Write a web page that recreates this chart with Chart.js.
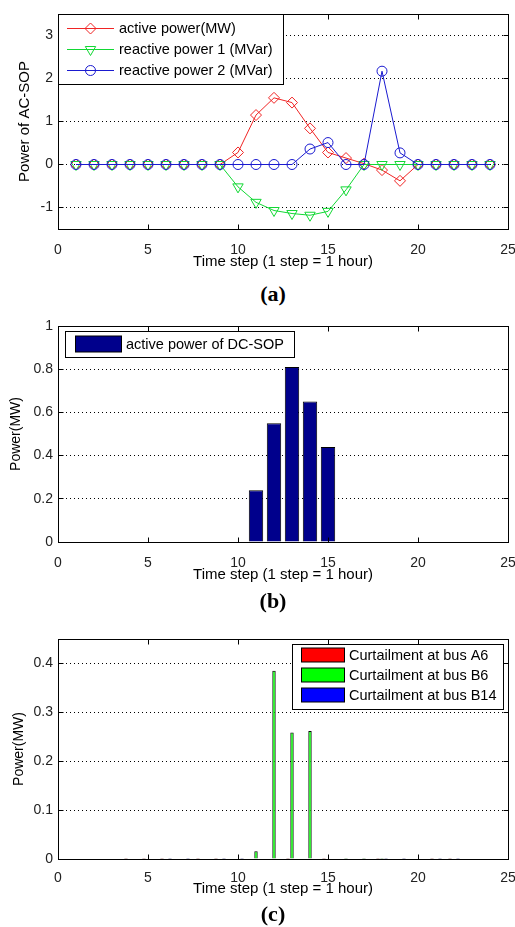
<!DOCTYPE html>
<html lang="en">
<head>
    <meta charset="UTF-8">
    <title>AC-SOP / DC-SOP power and curtailment</title>
    <script src="https://cdn.jsdelivr.net/npm/chart.js"></script>
    <style>
        body { margin: 0; background: #fff; }
        .page { position: relative; width: 515px; height: 927px; }
        .panel { position: absolute; left: 0; width: 515px; overflow: hidden; }
        .panel canvas { display: block; }
        .caption {
            position: absolute;
            left: 273px;
            transform: translateX(-50%);
            font: bold 22px "Liberation Serif", "DejaVu Serif", serif;
            line-height: 22px;
            color: #000;
        }
    </style>
</head>
<body>
    <div class="page">
        <div class="panel" style="top:0;height:280px"><canvas id="acChart" width="515" height="280"></canvas></div>
        <div class="caption" style="top:283px">(a)</div>
        <div class="panel" style="top:300px;height:290px"><canvas id="dcChart" width="515" height="290"></canvas></div>
        <div class="caption" style="top:590px">(b)</div>
        <div class="panel" style="top:610px;height:286px"><canvas id="curtChart" width="515" height="300"></canvas></div>
        <div class="caption" style="top:903px">(c)</div>
    </div>

    <script>
        // data
        const hours = [1, 2, 3, 4, 5, 6, 7, 8, 9, 10, 11, 12, 13, 14, 15, 16, 17, 18, 19, 20, 21, 22, 23, 24];
        const activePower    = [0, 0, 0, 0, 0, 0, 0, 0, 0, 0.28, 1.15, 1.55, 1.44, 0.84, 0.28, 0.15, 0.02, -0.13, -0.38, 0, 0, 0, 0, 0];
        const reactivePower1 = [0, 0, 0, 0, 0, 0, 0, 0, 0, -0.52, -0.88, -1.07, -1.14, -1.18, -1.09, -0.59, 0, 0, 0, 0, 0, 0, 0, 0];
        const reactivePower2 = [0, 0, 0, 0, 0, 0, 0, 0, 0, 0, 0, 0, 0, 0.36, 0.51, 0, 0, 2.17, 0.27, 0, 0, 0, 0, 0];

        const dcHours = [11, 12, 13, 14, 15];
        const dcActivePower = [0.24, 0.55, 0.81, 0.65, 0.44];

        const curtA6  = [0, 0, 0, 0.002, 0.002, 0.002, 0, 0.002, 0.002, 0, 0, 0, 0.002, 0, 0.002, 0, 0, 0.002, 0, 0, 0.002, 0.002, 0, 0];
        const curtB6  = [0, 0, 0, 0, 0, 0, 0, 0, 0, 0, 0.016, 0.385, 0.259, 0.262, 0, 0.002, 0.002, 0.002, 0, 0, 0, 0, 0, 0];
        const curtB14 = [0, 0, 0, 0, 0, 0.002, 0.002, 0, 0.002, 0.002, 0, 0, 0, 0, 0, 0, 0, 0.002, 0.002, 0, 0.002, 0.002, 0, 0];

        // tick labels
        const xTicks = [0, 5, 10, 15, 20, 25];
        const acTicks = [-1, 0, 1, 2, 3];
        const dcTicks = [0, 0.2, 0.4, 0.6, 0.8, 1];
        const curtTicks = [0, 0.1, 0.2, 0.3, 0.4];

        const xTitle = 'Time step (1 step = 1 hour)';
        const FONT = '"Liberation Sans", Arial, sans-serif';

        const pts = (xs, ys) => xs.map((x, i) => ({ x: x, y: ys[i] }));
        const tickText = v => String(+Number(v).toFixed(2));
        // same pixel snapping chart.js uses for 1px lines
        const snap = p => Math.round(p - 0.5) + 0.5;

        function drawMarker(ctx, style, x, y, r) {
            ctx.beginPath();
            if (style === 'rectRot') {
                ctx.moveTo(x, y - r); ctx.lineTo(x + r, y); ctx.lineTo(x, y + r); ctx.lineTo(x - r, y);
                ctx.closePath();
            } else if (style === 'triangle') {
                const s = Math.sin(Math.PI / 3) * r;
                ctx.moveTo(x, y + r); ctx.lineTo(x - s, y - r / 2); ctx.lineTo(x + s, y - r / 2);
                ctx.closePath();
            } else {
                ctx.arc(x, y, r, 0, Math.PI * 2);
            }
            ctx.stroke();
        }

        // backup for the dotted grid, painted behind whatever is already there
        function drawGrid(chart) {
            const ctx = chart.ctx, a = chart.chartArea, y = chart.scales.y;
            ctx.save();
            ctx.globalCompositeOperation = 'destination-over';
            ctx.strokeStyle = '#000';
            ctx.lineWidth = 1;
            ctx.setLineDash([1, 3]);
            y.ticks.forEach(t => {
                const py = snap(y.getPixelForValue(t.value));
                if (py <= a.top + 2 || py >= a.bottom - 2) return;
                ctx.beginPath();
                ctx.moveTo(a.left, py);
                ctx.lineTo(a.right, py);
                ctx.stroke();
            });
            ctx.restore();
        }

        // box round the plot with inward ticks on all four sides
        function drawBox(chart) {
            const ctx = chart.ctx, a = chart.chartArea, x = chart.scales.x, y = chart.scales.y;
            const L = snap(a.left), R = snap(a.right), T = snap(a.top), B = snap(a.bottom);
            ctx.save();
            ctx.strokeStyle = '#000';
            ctx.lineWidth = 1;
            ctx.setLineDash([]);
            ctx.beginPath();
            x.ticks.forEach(t => {
                const px = snap(x.getPixelForValue(t.value));
                ctx.moveTo(px, B); ctx.lineTo(px, B - 5);
                ctx.moveTo(px, T); ctx.lineTo(px, T + 5);
            });
            y.ticks.forEach(t => {
                const py = snap(y.getPixelForValue(t.value));
                ctx.moveTo(L, py); ctx.lineTo(L + 5, py);
                ctx.moveTo(R, py); ctx.lineTo(R - 5, py);
            });
            ctx.stroke();
            ctx.strokeRect(L, T, R - L, B - T);
            ctx.restore();
        }

        function drawLegend(chart, lg) {
            const ctx = chart.ctx;
            ctx.save();
            ctx.setLineDash([]);
            ctx.fillStyle = '#fff';
            ctx.fillRect(lg.x, lg.y, lg.w, lg.h);
            ctx.strokeStyle = '#000';
            ctx.lineWidth = 1;
            ctx.strokeRect(lg.x + 0.5, lg.y + 0.5, lg.w, lg.h);
            ctx.font = '14.5px ' + FONT;
            ctx.textBaseline = 'middle';
            lg.rows.forEach((rowY, i) => {
                const ds = chart.data.datasets[i];
                if (lg.kind === 'line') {
                    ctx.strokeStyle = ds.borderColor;
                    ctx.lineWidth = 1;
                    ctx.beginPath();
                    ctx.moveTo(lg.sampleX0, rowY + 0.5);
                    ctx.lineTo(lg.sampleX1, rowY + 0.5);
                    ctx.stroke();
                    drawMarker(ctx, ds.pointStyle, (lg.sampleX0 + lg.sampleX1) / 2, rowY + 0.5, ds.pointRadius);
                } else {
                    ctx.fillStyle = '#000';
                    ctx.fillRect(lg.sampleX0, rowY - lg.boxH / 2, lg.sampleX1 - lg.sampleX0, lg.boxH);
                    ctx.fillStyle = ds.backgroundColor;
                    ctx.fillRect(lg.sampleX0 + 1, rowY - lg.boxH / 2 + 1, lg.sampleX1 - lg.sampleX0 - 2, lg.boxH - 2);
                }
                ctx.fillStyle = '#000';
                ctx.fillText(ds.label, lg.textX, rowY + 1);
            });
            ctx.restore();
        }

        const matlabFrame = {
            id: 'matlabFrame',
            afterDraw(chart, args, opts) {
                drawGrid(chart);
                drawBox(chart);
                if (opts && opts.legend) drawLegend(chart, opts.legend);
            }
        };

        function fixedTicks(values) {
            return function (scale) {
                scale.ticks = values.map(v => ({ value: v }));
            };
        }

        function xScale(tickPad, titlePad, height) {
            return {
                type: 'linear',
                min: 0,
                max: 25,
                offset: false,
                grid: { display: false, offset: false },
                border: { display: false },
                ticks: { padding: tickPad, color: '#222', font: { family: FONT, size: 14 }, maxRotation: 0, callback: tickText },
                afterBuildTicks: fixedTicks(xTicks),
                title: { display: true, text: xTitle, color: '#000', font: { family: FONT, size: 15 }, padding: { top: 0, bottom: titlePad } },
                afterFit(s) { s.height = height; s.paddingLeft = 0; s.paddingRight = 0; }
            };
        }

        function yScale(min, max, ticks, title, titleSize, titlePad) {
            return {
                type: 'linear',
                min: min,
                max: max,
                // dotted grid drawn by chart.js itself, hidden on the box edges
                grid: {
                    display: true,
                    drawTicks: false,
                    lineWidth: 1,
                    color: c => (c.tick && c.tick.value > min && c.tick.value < max) ? '#000' : 'rgba(0,0,0,0)'
                },
                border: { display: false, dash: [1, 3] },
                ticks: { padding: 5, color: '#222', font: { family: FONT, size: 14 }, callback: tickText },
                afterBuildTicks: fixedTicks(ticks),
                title: { display: true, text: title, color: '#000', font: { family: FONT, size: titleSize }, padding: { top: titlePad, bottom: 0 } },
                afterFit(s) { s.width = 58; s.paddingTop = 0; s.paddingBottom = 0; }
            };
        }

        function lineSet(label, values, color, style, radius, order) {
            return {
                label: label,
                data: pts(hours, values),
                borderColor: color,
                borderWidth: 1,
                pointStyle: style,
                pointRadius: radius,
                pointRotation: style === 'triangle' ? 180 : 0,
                pointBorderColor: color,
                pointBackgroundColor: 'rgba(0,0,0,0)',
                pointBorderWidth: 1,
                tension: 0,
                order: order
            };
        }

        function common(padTop) {
            return {
                responsive: false,
                animation: false,
                events: [],
                layout: { padding: { top: padTop, right: 7, left: 0, bottom: 0 } },
                plugins: { legend: { display: false }, tooltip: { enabled: false } }
            };
        }

        // (a) AC-SOP
        const acOpts = common(14);
        acOpts.scales = { x: xScale(5, 9, 51), y: yScale(-1.5, 3.5, acTicks, 'Power of AC-SOP', 15, 16) };
        acOpts.plugins.matlabFrame = {
            legend: { kind: 'line', x: 58, y: 14, w: 225, h: 70, rows: [28, 49, 70], sampleX0: 67, sampleX1: 114, textX: 119 }
        };
        new Chart(document.getElementById('acChart'), {
            type: 'line',
            data: {
                datasets: [
                    lineSet('active power(MW)', activePower, '#f02424', 'rectRot', 5.5, 3),
                    lineSet('reactive power 1 (MVar)', reactivePower1, '#12d834', 'triangle', 6, 2),
                    lineSet('reactive power 2 (MVar)', reactivePower2, '#1a1ad0', 'circle', 5, 1)
                ]
            },
            options: acOpts,
            plugins: [matlabFrame]
        });

        // (b) DC-SOP
        const dcOpts = common(26);
        dcOpts.scales = { x: xScale(5, 6, 48), y: yScale(0, 1, dcTicks, 'Power(MW)', 14, 7.5) };
        dcOpts.plugins.matlabFrame = {
            legend: { kind: 'rect', x: 65, y: 31, w: 229, h: 26, rows: [44], boxH: 17, sampleX0: 75, sampleX1: 122, textX: 126 }
        };
        new Chart(document.getElementById('dcChart'), {
            type: 'bar',
            data: {
                datasets: [{
                    label: 'active power of DC-SOP',
                    data: pts(dcHours, dcActivePower),
                    backgroundColor: '#00008c',
                    borderColor: '#000',
                    borderWidth: 1,
                    categoryPercentage: 0.8,
                    barPercentage: 1
                }]
            },
            options: dcOpts,
            plugins: [matlabFrame]
        });

        // (c) curtailment
        const curtOpts = common(29);
        curtOpts.scales = { x: xScale(2.5, 12, 51), y: yScale(0, 0.45, curtTicks, 'Power(MW)', 14, 10.5) };
        curtOpts.plugins.matlabFrame = {
            legend: { kind: 'rect', x: 292, y: 34, w: 211, h: 65, rows: [45, 65, 85], boxH: 15, sampleX0: 301, sampleX1: 345, textX: 349 }
        };
        const curtSet = (label, values, color) => ({
            label: label,
            data: pts(hours, values),
            backgroundColor: color,
            borderColor: '#000',
            borderWidth: 1,
            categoryPercentage: 0.667,
            barPercentage: 0.85
        });
        new Chart(document.getElementById('curtChart'), {
            type: 'bar',
            data: {
                datasets: [
                    curtSet('Curtailment at bus A6', curtA6, '#ff0000'),
                    curtSet('Curtailment at bus B6', curtB6, '#00ff00'),
                    curtSet('Curtailment at bus B14', curtB14, '#0000ff')
                ]
            },
            options: curtOpts,
            plugins: [matlabFrame]
        });
    </script>
</body>
</html>
